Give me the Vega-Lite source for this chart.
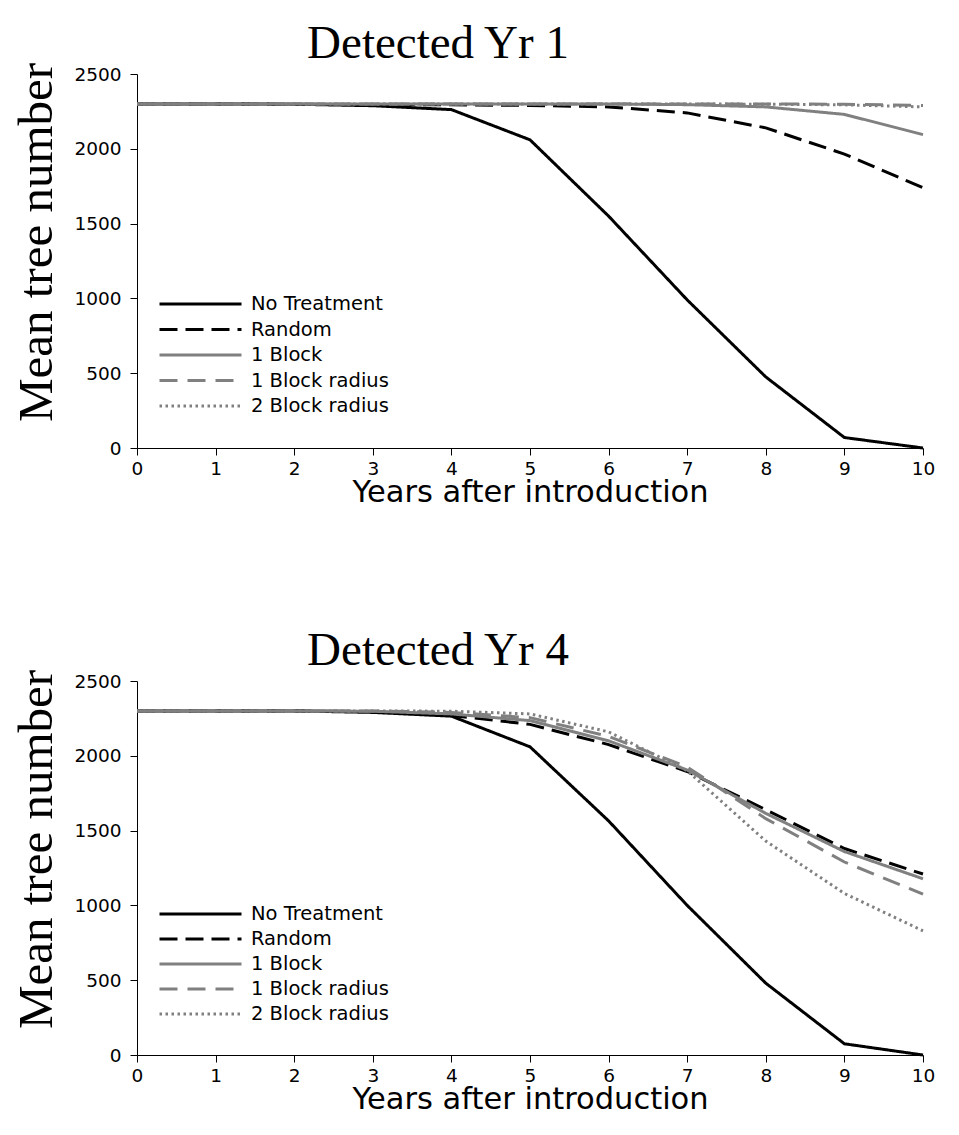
{
  "$schema": "https://vega.github.io/schema/vega-lite/v6.json",
  "background": "white",
  "padding": {"left": 12, "top": 20, "right": 10, "bottom": 5},
  "config": {
    "view": {"stroke": null},
    "axis": {"domainColor": "black", "domainWidth": 1, "tickColor": "black", "tickSize": 7, "labelColor": "black", "labelFont": "DejaVu Sans", "labelFontSize": 18.5, "labelFlush": false, "grid": false, "titleColor": "black", "titleFontWeight": "normal"}
  },
  "data": {"values": [
    {"panel": "Yr 1", "series": "No Treatment", "year": 0, "trees": 2300},
    {"panel": "Yr 1", "series": "No Treatment", "year": 1, "trees": 2300},
    {"panel": "Yr 1", "series": "No Treatment", "year": 2, "trees": 2298},
    {"panel": "Yr 1", "series": "No Treatment", "year": 3, "trees": 2288},
    {"panel": "Yr 1", "series": "No Treatment", "year": 4, "trees": 2262},
    {"panel": "Yr 1", "series": "No Treatment", "year": 5, "trees": 2060},
    {"panel": "Yr 1", "series": "No Treatment", "year": 6, "trees": 1550},
    {"panel": "Yr 1", "series": "No Treatment", "year": 7, "trees": 990},
    {"panel": "Yr 1", "series": "No Treatment", "year": 8, "trees": 475},
    {"panel": "Yr 1", "series": "No Treatment", "year": 9, "trees": 70},
    {"panel": "Yr 1", "series": "No Treatment", "year": 10, "trees": 0},
    {"panel": "Yr 1", "series": "Random", "year": 0, "trees": 2300},
    {"panel": "Yr 1", "series": "Random", "year": 1, "trees": 2300},
    {"panel": "Yr 1", "series": "Random", "year": 2, "trees": 2298},
    {"panel": "Yr 1", "series": "Random", "year": 3, "trees": 2296},
    {"panel": "Yr 1", "series": "Random", "year": 4, "trees": 2294},
    {"panel": "Yr 1", "series": "Random", "year": 5, "trees": 2290},
    {"panel": "Yr 1", "series": "Random", "year": 6, "trees": 2280},
    {"panel": "Yr 1", "series": "Random", "year": 7, "trees": 2240},
    {"panel": "Yr 1", "series": "Random", "year": 8, "trees": 2140},
    {"panel": "Yr 1", "series": "Random", "year": 9, "trees": 1965},
    {"panel": "Yr 1", "series": "Random", "year": 10, "trees": 1740},
    {"panel": "Yr 1", "series": "1 Block", "year": 0, "trees": 2300},
    {"panel": "Yr 1", "series": "1 Block", "year": 1, "trees": 2300},
    {"panel": "Yr 1", "series": "1 Block", "year": 2, "trees": 2300},
    {"panel": "Yr 1", "series": "1 Block", "year": 3, "trees": 2300},
    {"panel": "Yr 1", "series": "1 Block", "year": 4, "trees": 2300},
    {"panel": "Yr 1", "series": "1 Block", "year": 5, "trees": 2300},
    {"panel": "Yr 1", "series": "1 Block", "year": 6, "trees": 2300},
    {"panel": "Yr 1", "series": "1 Block", "year": 7, "trees": 2295},
    {"panel": "Yr 1", "series": "1 Block", "year": 8, "trees": 2280},
    {"panel": "Yr 1", "series": "1 Block", "year": 9, "trees": 2230},
    {"panel": "Yr 1", "series": "1 Block", "year": 10, "trees": 2095},
    {"panel": "Yr 1", "series": "1 Block radius", "year": 0, "trees": 2300},
    {"panel": "Yr 1", "series": "1 Block radius", "year": 1, "trees": 2300},
    {"panel": "Yr 1", "series": "1 Block radius", "year": 2, "trees": 2300},
    {"panel": "Yr 1", "series": "1 Block radius", "year": 3, "trees": 2300},
    {"panel": "Yr 1", "series": "1 Block radius", "year": 4, "trees": 2300},
    {"panel": "Yr 1", "series": "1 Block radius", "year": 5, "trees": 2300},
    {"panel": "Yr 1", "series": "1 Block radius", "year": 6, "trees": 2300},
    {"panel": "Yr 1", "series": "1 Block radius", "year": 7, "trees": 2300},
    {"panel": "Yr 1", "series": "1 Block radius", "year": 8, "trees": 2300},
    {"panel": "Yr 1", "series": "1 Block radius", "year": 9, "trees": 2298},
    {"panel": "Yr 1", "series": "1 Block radius", "year": 10, "trees": 2290},
    {"panel": "Yr 1", "series": "2 Block radius", "year": 0, "trees": 2300},
    {"panel": "Yr 1", "series": "2 Block radius", "year": 1, "trees": 2300},
    {"panel": "Yr 1", "series": "2 Block radius", "year": 2, "trees": 2300},
    {"panel": "Yr 1", "series": "2 Block radius", "year": 3, "trees": 2300},
    {"panel": "Yr 1", "series": "2 Block radius", "year": 4, "trees": 2300},
    {"panel": "Yr 1", "series": "2 Block radius", "year": 5, "trees": 2300},
    {"panel": "Yr 1", "series": "2 Block radius", "year": 6, "trees": 2300},
    {"panel": "Yr 1", "series": "2 Block radius", "year": 7, "trees": 2300},
    {"panel": "Yr 1", "series": "2 Block radius", "year": 8, "trees": 2298},
    {"panel": "Yr 1", "series": "2 Block radius", "year": 9, "trees": 2294},
    {"panel": "Yr 1", "series": "2 Block radius", "year": 10, "trees": 2280},
    {"panel": "Yr 4", "series": "No Treatment", "year": 0, "trees": 2300},
    {"panel": "Yr 4", "series": "No Treatment", "year": 1, "trees": 2300},
    {"panel": "Yr 4", "series": "No Treatment", "year": 2, "trees": 2300},
    {"panel": "Yr 4", "series": "No Treatment", "year": 3, "trees": 2290},
    {"panel": "Yr 4", "series": "No Treatment", "year": 4, "trees": 2265},
    {"panel": "Yr 4", "series": "No Treatment", "year": 5, "trees": 2060},
    {"panel": "Yr 4", "series": "No Treatment", "year": 6, "trees": 1565},
    {"panel": "Yr 4", "series": "No Treatment", "year": 7, "trees": 1000},
    {"panel": "Yr 4", "series": "No Treatment", "year": 8, "trees": 480},
    {"panel": "Yr 4", "series": "No Treatment", "year": 9, "trees": 75},
    {"panel": "Yr 4", "series": "No Treatment", "year": 10, "trees": 0},
    {"panel": "Yr 4", "series": "Random", "year": 0, "trees": 2300},
    {"panel": "Yr 4", "series": "Random", "year": 1, "trees": 2300},
    {"panel": "Yr 4", "series": "Random", "year": 2, "trees": 2300},
    {"panel": "Yr 4", "series": "Random", "year": 3, "trees": 2295},
    {"panel": "Yr 4", "series": "Random", "year": 4, "trees": 2270},
    {"panel": "Yr 4", "series": "Random", "year": 5, "trees": 2210},
    {"panel": "Yr 4", "series": "Random", "year": 6, "trees": 2075},
    {"panel": "Yr 4", "series": "Random", "year": 7, "trees": 1895},
    {"panel": "Yr 4", "series": "Random", "year": 8, "trees": 1640},
    {"panel": "Yr 4", "series": "Random", "year": 9, "trees": 1380},
    {"panel": "Yr 4", "series": "Random", "year": 10, "trees": 1210},
    {"panel": "Yr 4", "series": "1 Block", "year": 0, "trees": 2300},
    {"panel": "Yr 4", "series": "1 Block", "year": 1, "trees": 2300},
    {"panel": "Yr 4", "series": "1 Block", "year": 2, "trees": 2300},
    {"panel": "Yr 4", "series": "1 Block", "year": 3, "trees": 2298},
    {"panel": "Yr 4", "series": "1 Block", "year": 4, "trees": 2280},
    {"panel": "Yr 4", "series": "1 Block", "year": 5, "trees": 2235},
    {"panel": "Yr 4", "series": "1 Block", "year": 6, "trees": 2100},
    {"panel": "Yr 4", "series": "1 Block", "year": 7, "trees": 1905},
    {"panel": "Yr 4", "series": "1 Block", "year": 8, "trees": 1615},
    {"panel": "Yr 4", "series": "1 Block", "year": 9, "trees": 1360},
    {"panel": "Yr 4", "series": "1 Block", "year": 10, "trees": 1178},
    {"panel": "Yr 4", "series": "1 Block radius", "year": 0, "trees": 2300},
    {"panel": "Yr 4", "series": "1 Block radius", "year": 1, "trees": 2300},
    {"panel": "Yr 4", "series": "1 Block radius", "year": 2, "trees": 2300},
    {"panel": "Yr 4", "series": "1 Block radius", "year": 3, "trees": 2300},
    {"panel": "Yr 4", "series": "1 Block radius", "year": 4, "trees": 2290},
    {"panel": "Yr 4", "series": "1 Block radius", "year": 5, "trees": 2255},
    {"panel": "Yr 4", "series": "1 Block radius", "year": 6, "trees": 2130},
    {"panel": "Yr 4", "series": "1 Block radius", "year": 7, "trees": 1925},
    {"panel": "Yr 4", "series": "1 Block radius", "year": 8, "trees": 1580},
    {"panel": "Yr 4", "series": "1 Block radius", "year": 9, "trees": 1290},
    {"panel": "Yr 4", "series": "1 Block radius", "year": 10, "trees": 1075},
    {"panel": "Yr 4", "series": "2 Block radius", "year": 0, "trees": 2300},
    {"panel": "Yr 4", "series": "2 Block radius", "year": 1, "trees": 2300},
    {"panel": "Yr 4", "series": "2 Block radius", "year": 2, "trees": 2300},
    {"panel": "Yr 4", "series": "2 Block radius", "year": 3, "trees": 2300},
    {"panel": "Yr 4", "series": "2 Block radius", "year": 4, "trees": 2298},
    {"panel": "Yr 4", "series": "2 Block radius", "year": 5, "trees": 2280},
    {"panel": "Yr 4", "series": "2 Block radius", "year": 6, "trees": 2160},
    {"panel": "Yr 4", "series": "2 Block radius", "year": 7, "trees": 1900},
    {"panel": "Yr 4", "series": "2 Block radius", "year": 8, "trees": 1430},
    {"panel": "Yr 4", "series": "2 Block radius", "year": 9, "trees": 1080},
    {"panel": "Yr 4", "series": "2 Block radius", "year": 10, "trees": 830}
  ]},
  "spacing": 119,
  "resolve": {"scale": {"color": "independent", "strokeDash": "independent"}, "legend": {"color": "independent", "strokeDash": "independent"}},
  "vconcat": [
    {
      "title": {"text": "Detected Yr 1", "font": "Liberation Serif", "fontSize": 47, "fontWeight": "normal", "color": "black", "frame": "group", "anchor": "middle", "dx": -92, "offset": -6},
      "width": 786,
      "height": 374,
      "transform": [{"filter": "datum.panel == 'Yr 1'"}],
      "mark": {"type": "line", "strokeWidth": 3},
      "encoding": {
        "x": {"field": "year", "type": "quantitative", "scale": {"domain": [0, 10], "nice": false}, "axis": {"values": [0, 1, 2, 3, 4, 5, 6, 7, 8, 9, 10], "format": "d", "labelPadding": 4, "title": "Years after introduction", "titleFont": "DejaVu Sans", "titleFontSize": 30.5, "titlePadding": 0}},
        "y": {"field": "trees", "type": "quantitative", "scale": {"domain": [0, 2500], "nice": false}, "axis": {"values": [0, 500, 1000, 1500, 2000, 2500], "format": "d", "labelPadding": 9, "title": "Mean tree number", "titleFont": "Liberation Serif", "titleFontSize": 49, "titlePadding": 12, "titleY": 168}},
        "color": {"field": "series", "type": "nominal", "scale": {"domain": ["No Treatment", "Random", "1 Block", "1 Block radius", "2 Block radius"], "range": ["#000000", "#000000", "#808080", "#808080", "#808080"]}, "legend": {"title": null, "orient": "none", "legendX": 21, "legendY": 220, "padding": 0, "symbolType": "stroke", "symbolSize": 6724, "symbolStrokeWidth": 3, "clipHeight": 20, "rowPadding": 5.5, "labelFont": "DejaVu Sans", "labelFontSize": 19.5, "labelColor": "black", "labelOffset": 8}},
        "strokeDash": {"field": "series", "type": "nominal", "scale": {"domain": ["No Treatment", "Random", "1 Block", "1 Block radius", "2 Block radius"], "range": [[1, 0], [18, 8], [1, 0], [18, 10], [2.5, 3.5]]}, "legend": {"title": null, "orient": "none", "legendX": 21, "legendY": 220, "padding": 0, "symbolType": "stroke", "symbolSize": 6724, "symbolStrokeWidth": 3, "clipHeight": 20, "rowPadding": 5.5, "labelFont": "DejaVu Sans", "labelFontSize": 19.5, "labelColor": "black", "labelOffset": 8}}
      }
    },
    {
      "title": {"text": "Detected Yr 4", "font": "Liberation Serif", "fontSize": 47, "fontWeight": "normal", "color": "black", "frame": "group", "anchor": "middle", "dx": -92, "offset": -6},
      "width": 786,
      "height": 374,
      "transform": [{"filter": "datum.panel == 'Yr 4'"}],
      "mark": {"type": "line", "strokeWidth": 3},
      "encoding": {
        "x": {"field": "year", "type": "quantitative", "scale": {"domain": [0, 10], "nice": false}, "axis": {"values": [0, 1, 2, 3, 4, 5, 6, 7, 8, 9, 10], "format": "d", "labelPadding": 4, "title": "Years after introduction", "titleFont": "DejaVu Sans", "titleFontSize": 30.5, "titlePadding": 0}},
        "y": {"field": "trees", "type": "quantitative", "scale": {"domain": [0, 2500], "nice": false}, "axis": {"values": [0, 500, 1000, 1500, 2000, 2500], "format": "d", "labelPadding": 9, "title": "Mean tree number", "titleFont": "Liberation Serif", "titleFontSize": 49, "titlePadding": 12, "titleY": 168}},
        "color": {"field": "series", "type": "nominal", "scale": {"domain": ["No Treatment", "Random", "1 Block", "1 Block radius", "2 Block radius"], "range": ["#000000", "#000000", "#808080", "#808080", "#808080"]}, "legend": {"title": null, "orient": "none", "legendX": 21, "legendY": 223, "padding": 0, "symbolType": "stroke", "symbolSize": 6724, "symbolStrokeWidth": 3, "clipHeight": 20, "rowPadding": 5, "labelFont": "DejaVu Sans", "labelFontSize": 19.5, "labelColor": "black", "labelOffset": 8}},
        "strokeDash": {"field": "series", "type": "nominal", "scale": {"domain": ["No Treatment", "Random", "1 Block", "1 Block radius", "2 Block radius"], "range": [[1, 0], [18, 8], [1, 0], [18, 10], [2.5, 3.5]]}, "legend": {"title": null, "orient": "none", "legendX": 21, "legendY": 223, "padding": 0, "symbolType": "stroke", "symbolSize": 6724, "symbolStrokeWidth": 3, "clipHeight": 20, "rowPadding": 5, "labelFont": "DejaVu Sans", "labelFontSize": 19.5, "labelColor": "black", "labelOffset": 8}}
      }
    }
  ]
}
